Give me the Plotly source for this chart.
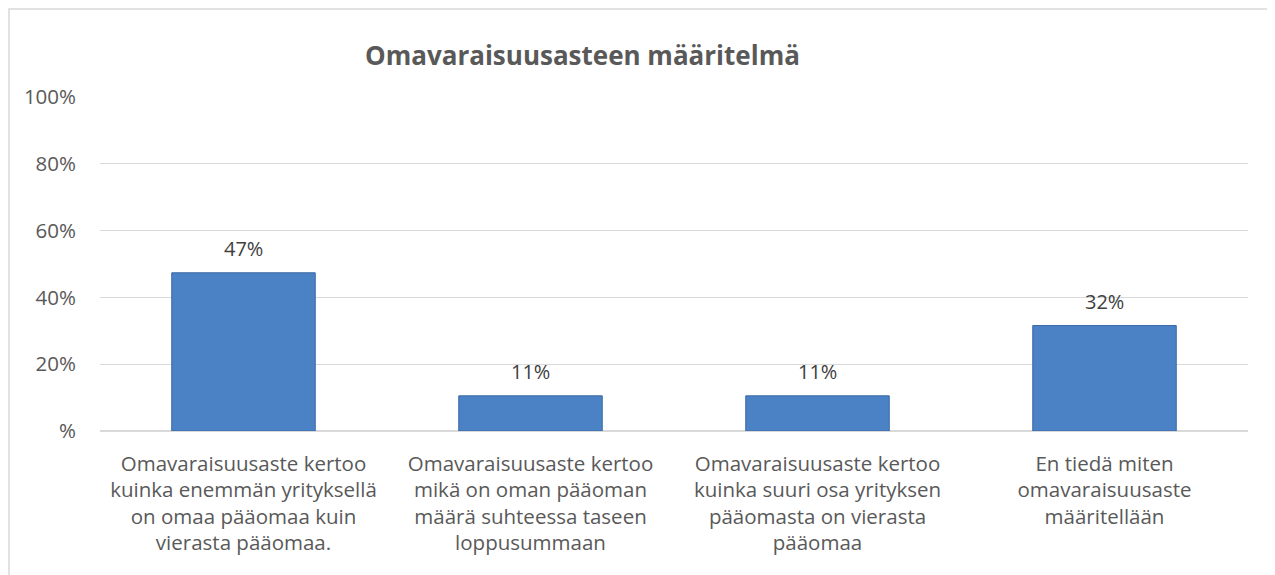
import plotly.graph_objects as go

categories = [
    "Omavaraisuusaste kertoo<br>kuinka enemmän yrityksellä<br>on omaa pääomaa kuin<br>vierasta pääomaa.",
    "Omavaraisuusaste kertoo<br>mikä on oman pääoman<br>määrä suhteessa taseen<br>loppusummaan",
    "Omavaraisuusaste kertoo<br>kuinka suuri osa yrityksen<br>pääomasta on vierasta<br>pääomaa",
    "En tiedä miten<br>omavaraisuusaste<br>määritellään",
]
values = [0.4737, 0.1053, 0.1053, 0.3158]
value_labels = ["47%", "11%", "11%", "32%"]
ytick_vals = [0, 0.2, 0.4, 0.6, 0.8, 1.0]
ytick_text = ["%", "20%", "40%", "60%", "80%", "100%"]
title = "Omavaraisuusasteen määritelmä"

W, H = 1275, 575
OFF = 8  # page body margin
L, T = 92, 89
pw, ph = 1148, 334
R = W - L - pw
B = H - T - ph

def px_x(p):
    return (p - OFF - L) / pw

def px_y(p):
    return (OFF + T + ph - p) / ph

FONT = "Open Sans"
GREY = "#595959"

fig = go.Figure()
fig.add_trace(go.Bar(
    x=list(range(len(categories))),
    y=values,
    width=0.5,
    marker=dict(color="#4A82C5", line=dict(color="#3A69A5", width=1)),
    hoverinfo="skip",
))

annotations = [dict(
    x=i, y=v, xref="x", yref="y",
    text=t, showarrow=False,
    xanchor="center", yanchor="bottom", yshift=9,
    font=dict(family=FONT, size=20, color="#404040"),
) for i, (v, t) in enumerate(zip(values, value_labels))]

annotations.append(dict(
    text="<b>" + title + "</b>",
    xref="paper", yref="paper",
    x=px_x(582), y=px_y(55),
    xanchor="center", yanchor="middle",
    showarrow=False,
    font=dict(family=FONT, size=26, color=GREY),
))

fig.update_layout(
    width=W, height=H,
    margin=dict(l=L, r=R, t=T, b=B),
    paper_bgcolor="white", plot_bgcolor="white",
    showlegend=False,
    xaxis=dict(
        tickvals=list(range(len(categories))),
        ticktext=categories,
        range=[-0.5, len(categories) - 0.5],
        showgrid=False, zeroline=False, showline=False,
        ticks="", tickangle=0,
        ticklabelstandoff=18,
        tickfont=dict(family=FONT, size=20.5, color=GREY),
    ),
    yaxis=dict(
        range=[0, 1],
        tickvals=ytick_vals, ticktext=ytick_text,
        showgrid=True, gridcolor="#D9D9D9", gridwidth=1,
        zeroline=True, zerolinecolor="#D9D9D9", zerolinewidth=1.5,
        showline=False, ticks="",
        ticklabelstandoff=23,
        tickfont=dict(family=FONT, size=20.5, color=GREY),
    ),
    annotations=annotations,
    shapes=[dict(
        type="rect", xref="paper", yref="paper",
        x0=px_x(9), x1=px_x(1300), y0=px_y(9), y1=px_y(620),
        line=dict(color="#D9D9D9", width=1.5), fillcolor="rgba(0,0,0,0)",
        layer="below",
    )],
)

fig.write_html("out.html")
